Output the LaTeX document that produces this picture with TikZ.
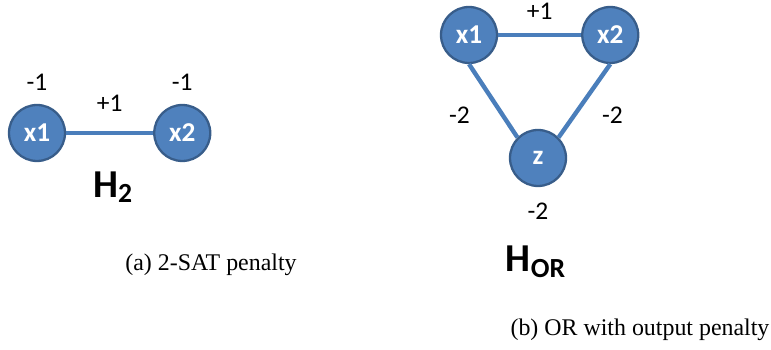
\documentclass[tikz,border=0pt]{standalone}
\usepackage{fontspec}
\setmainfont{Liberation Serif}
\newfontfamily\calibri{Carlito}
\usetikzlibrary{positioning}
\definecolor{nodeblue}{HTML}{4F81BD}
\definecolor{rimblue}{HTML}{385D8A}
\definecolor{edgeblue}{HTML}{4A7EBB}
\begin{document}
\begin{tikzpicture}[
    x=0.02cm, y=-0.02cm,
    var/.style={circle, draw=rimblue, line width=1.3pt, fill=nodeblue,
                minimum size=1.12cm, inner sep=0pt, text=white,
                font=\calibri\bfseries\fontsize{15.5}{15.5}\selectfont},
    link/.style={edgeblue, line width=2.5pt},
    wt/.style={text=black, font=\calibri\fontsize{14.5}{14.5}\selectfont},
    ham/.style={font=\calibri\bfseries\fontsize{22.5}{22.5}\selectfont},
    subcap/.style={font=\fontsize{13.6}{16}\selectfont}
]
    \useasboundingbox (0,0) rectangle (771,350);

    % (a) two variables
    \node[var, label={[wt,label distance=0.15cm]above:-1}] (a1) at (37,133) {x1};
    \node[var, label={[wt,label distance=0.15cm]above:-1},
          right=1.74cm of a1] (a2) {x2};
    \draw[link] (a1.east) -- node[wt, above=0.27cm]{+1} (a2.west);
    \node[ham] (h2) at (113,187) {H\textsubscript{2}};
    \node[subcap] (capa) at (211,265) {(a) 2-SAT penalty};

    % (b) OR gadget
    \node[var] (b1) at (469,35) {x1};
    \node[var, right=1.66cm of b1] (b2) {x2};
    \node[var, label={[wt,label distance=0.2cm]below:-2}] (z) at (538,158) {z};
    \draw[link] (b1.east) -- node[wt, above=0.15cm]{+1} (b2.west);
    \draw[link] (b1.south) -- node[wt, pos=0.7, left=0.5cm]{-2} (z.north west);
    \draw[link] (b2.south) -- node[wt, pos=0.7, right=0.4cm]{-2} (z.north east);
    \node[ham] (hor) at (536,262) {H\textsubscript{OR}};
    \node[subcap] (capb) at (640,330) {(b) OR with output penalty};
\end{tikzpicture}
\end{document}
